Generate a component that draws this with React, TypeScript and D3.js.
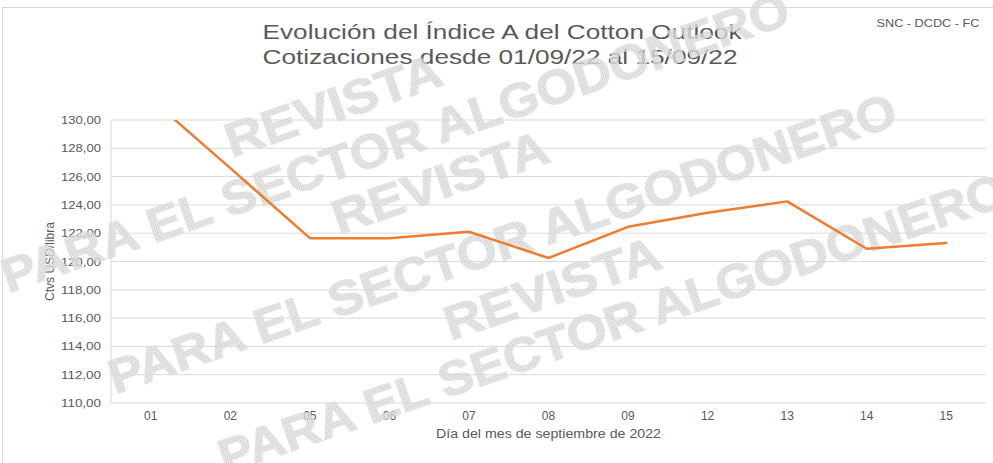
import React from "react";
import * as d3 from "d3";

const categories = ["01", "02", "05", "06", "07", "08", "09", "12", "13", "14", "15"];
const values = [131.5, 126.6, 121.65, 121.65, 122.1, 120.25, 122.45, 123.45, 124.25, 120.9, 121.3];
const yTicks = [110, 112, 114, 116, 118, 120, 122, 124, 126, 128, 130];
const titleLines = ["Evolución del Índice A del Cotton Outlook", "Cotizaciones desde 01/09/22 al 15/09/22"];
const sourceLabel = "SNC - DCDC - FC";
const xAxisTitle = "Día del mes de septiembre de 2022";
const yAxisTitle = "Ctvs USD/libra";

// decorative watermark (not data)
const watermark = [
  { text: "REVISTA", cx: 333, cy: 105, len: 226 },
  { text: "PARA EL SECTOR ALGODONERO", cx: 395, cy: 142, len: 830 },
  { text: "REVISTA", cx: 440, cy: 182, len: 226 },
  { text: "PARA EL SECTOR ALGODONERO", cx: 502, cy: 243, len: 830 },
  { text: "REVISTA", cx: 552, cy: 288, len: 226 },
  { text: "PARA EL SECTOR ALGODONERO", cx: 612, cy: 323, len: 830 },
];

const W = 993;
const H = 463;
const plot = { left: 111, right: 986, top: 120, bottom: 403 };
const FONT = "'Liberation Sans', Arial, sans-serif";
const TEXT = "#595959";
const GRID = "#d9d9d9";

export default function App() {
  const x = d3.scaleBand<string>().domain(categories).range([plot.left, plot.right]).padding(0);
  const y = d3.scaleLinear().domain([110, 130]).range([plot.bottom, plot.top]);
  const fmt = (v: number) => d3.format(".2f")(v).replace(".", ",");
  const line = d3
    .line<number>()
    .x((_, i) => (x(categories[i]) as number) + x.bandwidth() / 2)
    .y((d) => y(d));

  return (
    <svg
      width={W}
      height={H}
      style={{ position: "absolute", left: 0, top: 0, background: "#fff" }}
      fontFamily={FONT}
    >
      <defs>
        <clipPath id="plotClip">
          <rect x={plot.left} y={plot.top} width={plot.right - plot.left} height={plot.bottom - plot.top} />
        </clipPath>
        <pattern id="dots" width="2" height="2" patternUnits="userSpaceOnUse">
          <rect width="2" height="2" fill="#e6e6e6" />
          <rect width="1" height="1" fill="#b3b3b3" />
        </pattern>
      </defs>
      <rect x={2.5} y={7.5} width={1000} height={500} fill="#fff" stroke={GRID} />

      {/* gridlines */}
      {yTicks.map((t) => (
        <line key={t} x1={plot.left} x2={plot.right} y1={y(t)} y2={y(t)} stroke={GRID} strokeWidth={1} />
      ))}
      <line x1={plot.left} x2={plot.left} y1={plot.top} y2={plot.bottom} stroke={GRID} />

      {/* y tick labels */}
      {yTicks.map((t) => (
        <text
          key={"l" + t}
          x={101}
          y={y(t) + 4}
          textAnchor="end"
          fontSize={11}
          fill={TEXT}
          textLength={40}
          lengthAdjust="spacingAndGlyphs"
        >
          {fmt(t)}
        </text>
      ))}

      {/* x tick labels */}
      {categories.map((c) => (
        <text
          key={"x" + c}
          x={(x(c) as number) + x.bandwidth() / 2}
          y={420}
          textAnchor="middle"
          fontSize={12}
          fill={TEXT}
        >
          {c}
        </text>
      ))}

      {/* axis titles */}
      <text
        x={(plot.left + plot.right) / 2}
        y={438}
        textAnchor="middle"
        fontSize={12.5}
        fill={TEXT}
        textLength={225}
        lengthAdjust="spacingAndGlyphs"
      >
        {xAxisTitle}
      </text>
      <text
        transform={`translate(54,${(plot.top + plot.bottom) / 2}) rotate(-90)`}
        textAnchor="middle"
        fontSize={12}
        fill={TEXT}
        textLength={79}
        lengthAdjust="spacingAndGlyphs"
      >
        {yAxisTitle}
      </text>

      {/* title */}
      <text x={502} y={39} textAnchor="middle" fontSize={20.5} fill={TEXT} textLength={479} lengthAdjust="spacingAndGlyphs">
        {titleLines[0]}
      </text>
      <text x={500} y={64} textAnchor="middle" fontSize={20.5} fill={TEXT} textLength={475} lengthAdjust="spacingAndGlyphs">
        {titleLines[1]}
      </text>
      <text x={928} y={27} textAnchor="middle" fontSize={10.5} fill={TEXT} textLength={103} lengthAdjust="spacingAndGlyphs">
        {sourceLabel}
      </text>

      {/* watermark */}
      <g opacity={0.8}>
        {watermark.map((w, i) => (
          <text
            key={"w" + i}
            transform={`translate(${w.cx},${w.cy}) rotate(-19)`}
            y={17}
            textAnchor="middle"
            fontSize={48}
            fontWeight="bold"
            fill="url(#dots)"
            stroke="#dcdcdc"
            strokeWidth={1.2}
            textLength={w.len}
            lengthAdjust="spacingAndGlyphs"
          >
            {w.text}
          </text>
        ))}
      </g>

      {/* series */}
      <path
        d={line(values) || ""}
        fill="none"
        stroke="#ED7D31"
        strokeWidth={2.5}
        strokeLinejoin="round"
        strokeLinecap="round"
        clipPath="url(#plotClip)"
      />
    </svg>
  );
}
